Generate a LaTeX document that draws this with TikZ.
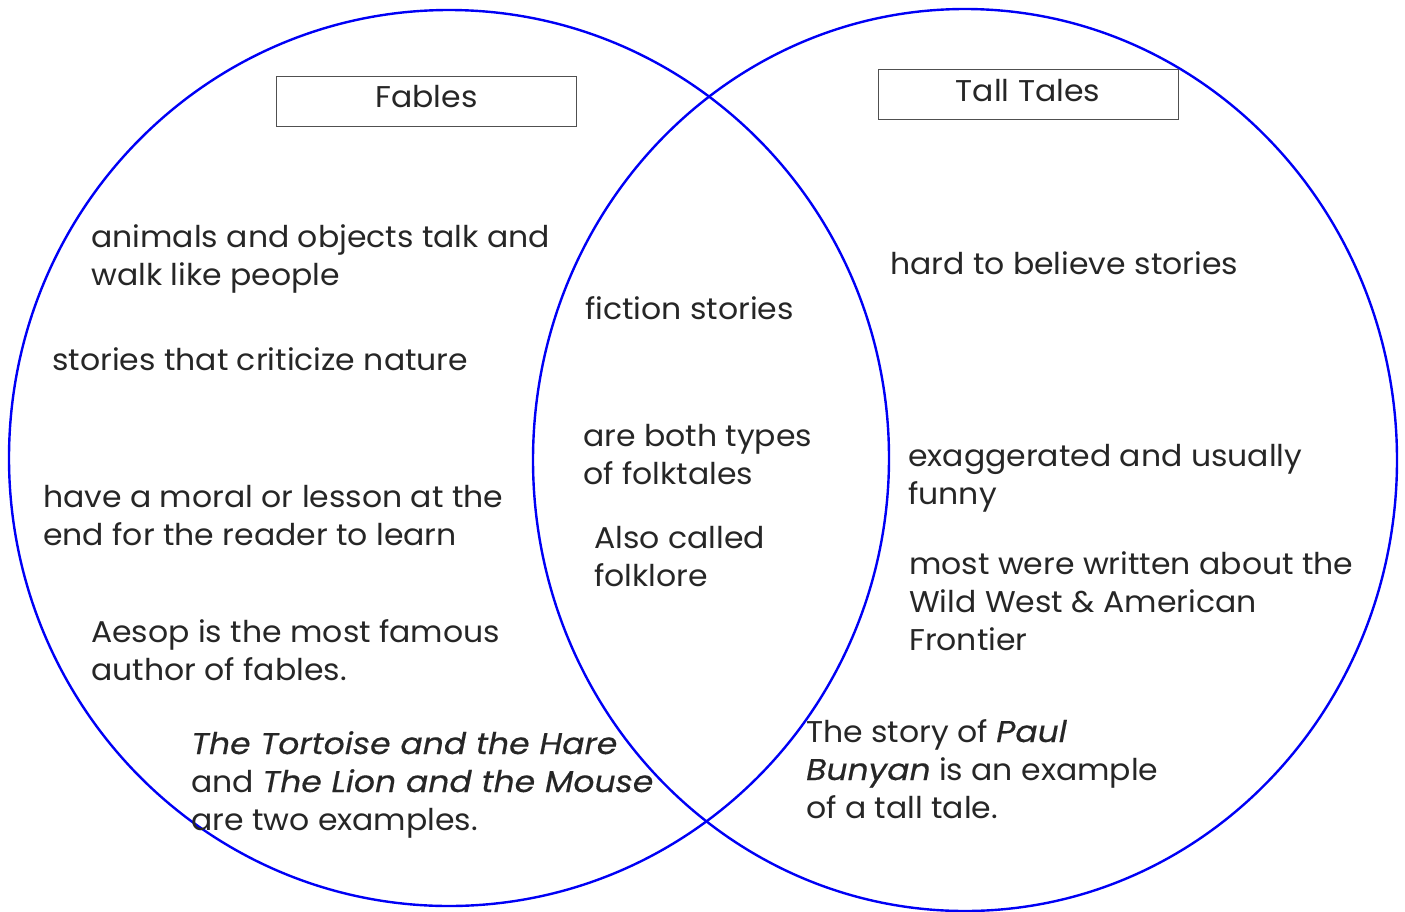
\documentclass[tikz,border=0pt]{standalone}
\usepackage{fontspec}
\setmainfont{Poppins}[FakeStretch=1.05, ItalicFeatures={FakeStretch=1.10, FakeBold=0.4}]
\definecolor{vennblue}{RGB}{0,0,245}
\definecolor{txt}{RGB}{38,38,38}
\definecolor{boxgray}{RGB}{80,80,80}
\tikzset{
  venn/.style={draw=vennblue, line width=2.4pt},
  label box/.style={draw=boxgray, line width=1pt, minimum width=300pt, minimum height=50pt, inner sep=0pt, text=txt, font=\fontsize{30}{38}\selectfont},
  item/.style={anchor=base west, align=left, inner sep=0pt, text=txt, font=\fontsize{30}{38}\selectfont},
}
\begin{document}
\begin{tikzpicture}[x=1pt,y=-1pt]
\useasboundingbox (0,0) rectangle (1405,911);
\draw[venn] (449,458) ellipse [x radius=440pt, y radius=448pt];
\draw[venn] (965,460) ellipse [x radius=432pt, y radius=451pt];
\node[label box, text height=20pt, text depth=8pt] (fables) at (426.5,101) {Fables};
\node[label box, text height=21pt, text depth=7pt] (tall) at (1028,94) {Tall Tales};
% multi-line nodes: base anchor is the baseline of the last line
\node[item] (animals) at (91,285) {animals and objects talk and\\walk like people};
\node[item] (criticize) at (52,370) {stories that criticize nature};
\node[item] (moral) at (43,545) {have a moral or lesson at the\\end for the reader to learn};
\node[item] (aesop) at (91,680) {Aesop is the most famous\\author of fables.};
\node[item] (examples) at (191,830) {\textit{The Tortoise and the Hare}\\and \textit{The Lion and the Mouse}\\are two examples.};
\node[item] (fiction) at (585,319) {fiction stories};
\node[item] (folktales) at (583,484) {are both types\\of folktales};
\node[item] (folklore) at (594,586) {Also called\\folklore};
\node[item] (hard) at (890,274) {hard to believe stories};
\node[item] (exag) at (908,504) {exaggerated and usually\\funny};
\node[item] (west) at (909,650) {most were written about the\\Wild West \& American\\Frontier};
\node[item] (paul) at (806,818) {The story of \textit{Paul}\\\textit{Bunyan} is an example\\of a tall tale.};
\end{tikzpicture}
\end{document}
